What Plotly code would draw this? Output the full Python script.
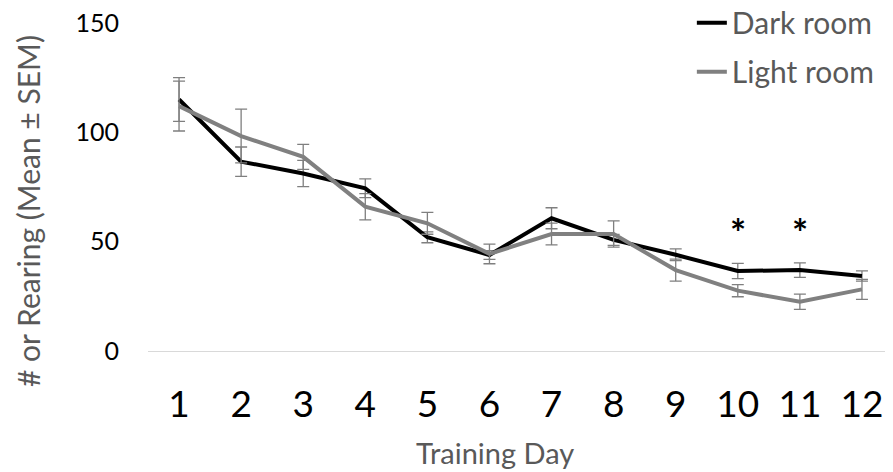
import plotly.graph_objects as go

days = list(range(1, 13))
dark_mean = [115, 86.6, 81.2, 74.4, 52, 43.9, 60.7, 50.8, 44, 36.6, 37, 34.3]
dark_sem = [10, 6.7, 6, 4.3, 2.5, 2, 4.8, 2.5, 2.7, 3.5, 3.3, 2.3]
light_mean = [112, 98.3, 88.8, 66, 58.4, 44.4, 53.5, 53.5, 37, 27.6, 22.5, 28.2]
light_sem = [11.4, 12.3, 5.7, 6, 5, 4.5, 5, 6, 5, 2.8, 3.5, 4.6]
sig_days = [10, 11]
sig_y = [54.5, 54.5]

FONT = "Lato, Carlito, Calibri, sans-serif"

fig = go.Figure()
fig.add_trace(go.Scatter(
    x=days, y=dark_mean, mode="lines", name="Dark room",
    line=dict(color="#000000", width=4),
    error_y=dict(type="data", array=dark_sem, visible=True, color="#7f7f7f", thickness=1.3, width=6),
    legendgroup="a"))
fig.add_trace(go.Scatter(
    x=days, y=light_mean, mode="lines", name="Light room",
    line=dict(color="#808080", width=4),
    error_y=dict(type="data", array=light_sem, visible=True, color="#7f7f7f", thickness=1.3, width=6),
    legendgroup="b"))

for d, yv in zip(sig_days, sig_y):
    fig.add_annotation(x=d, y=yv, text="<b>*</b>", showarrow=False,
                       font=dict(family=FONT, size=38, color="#000000"))

# axis titles
fig.add_annotation(xref="paper", yref="paper", x=-0.1611, y=0.4268, text="# or Rearing (Mean ± SEM)",
                   textangle=-90, showarrow=False, xanchor="center", yanchor="middle",
                   font=dict(family=FONT, size=30, color="#595959"))
fig.add_annotation(xref="paper", yref="paper", x=0.4658, y=-0.308, text="Training Day",
                   showarrow=False, xanchor="center", yanchor="middle",
                   font=dict(family=FONT, size=29, color="#595959"))

fig.update_layout(
    width=885, height=464,
    margin=dict(l=140, r=0, t=15, b=121, autoexpand=False),
    plot_bgcolor="white", paper_bgcolor="white",
    font=dict(family=FONT),
    showlegend=True,
    legend=dict(x=0.730, xanchor="left", y=1.08, yanchor="top",
                font=dict(family=FONT, size=30, color="#595959"),
                tracegroupgap=7, bgcolor="rgba(0,0,0,0)"),
    xaxis=dict(range=[0.5, 12.5], tickvals=days, ticktext=[str(d) for d in days],
               showgrid=False, zeroline=False, showline=True, linecolor="#d9d9d9", linewidth=1,
               ticks="", automargin=False, ticklabelstandoff=21,
               tickfont=dict(family=FONT, size=37, color="#000000")),
    yaxis=dict(range=[0, 150], tickvals=[0, 50, 100, 150],
               showgrid=False, zeroline=False, showline=False,
               ticks="", ticklabelstandoff=28, automargin=False, ticklabeloverflow="allow",
               tickfont=dict(family=FONT, size=25, color="#000000")),
)

fig.write_html("out.html")
